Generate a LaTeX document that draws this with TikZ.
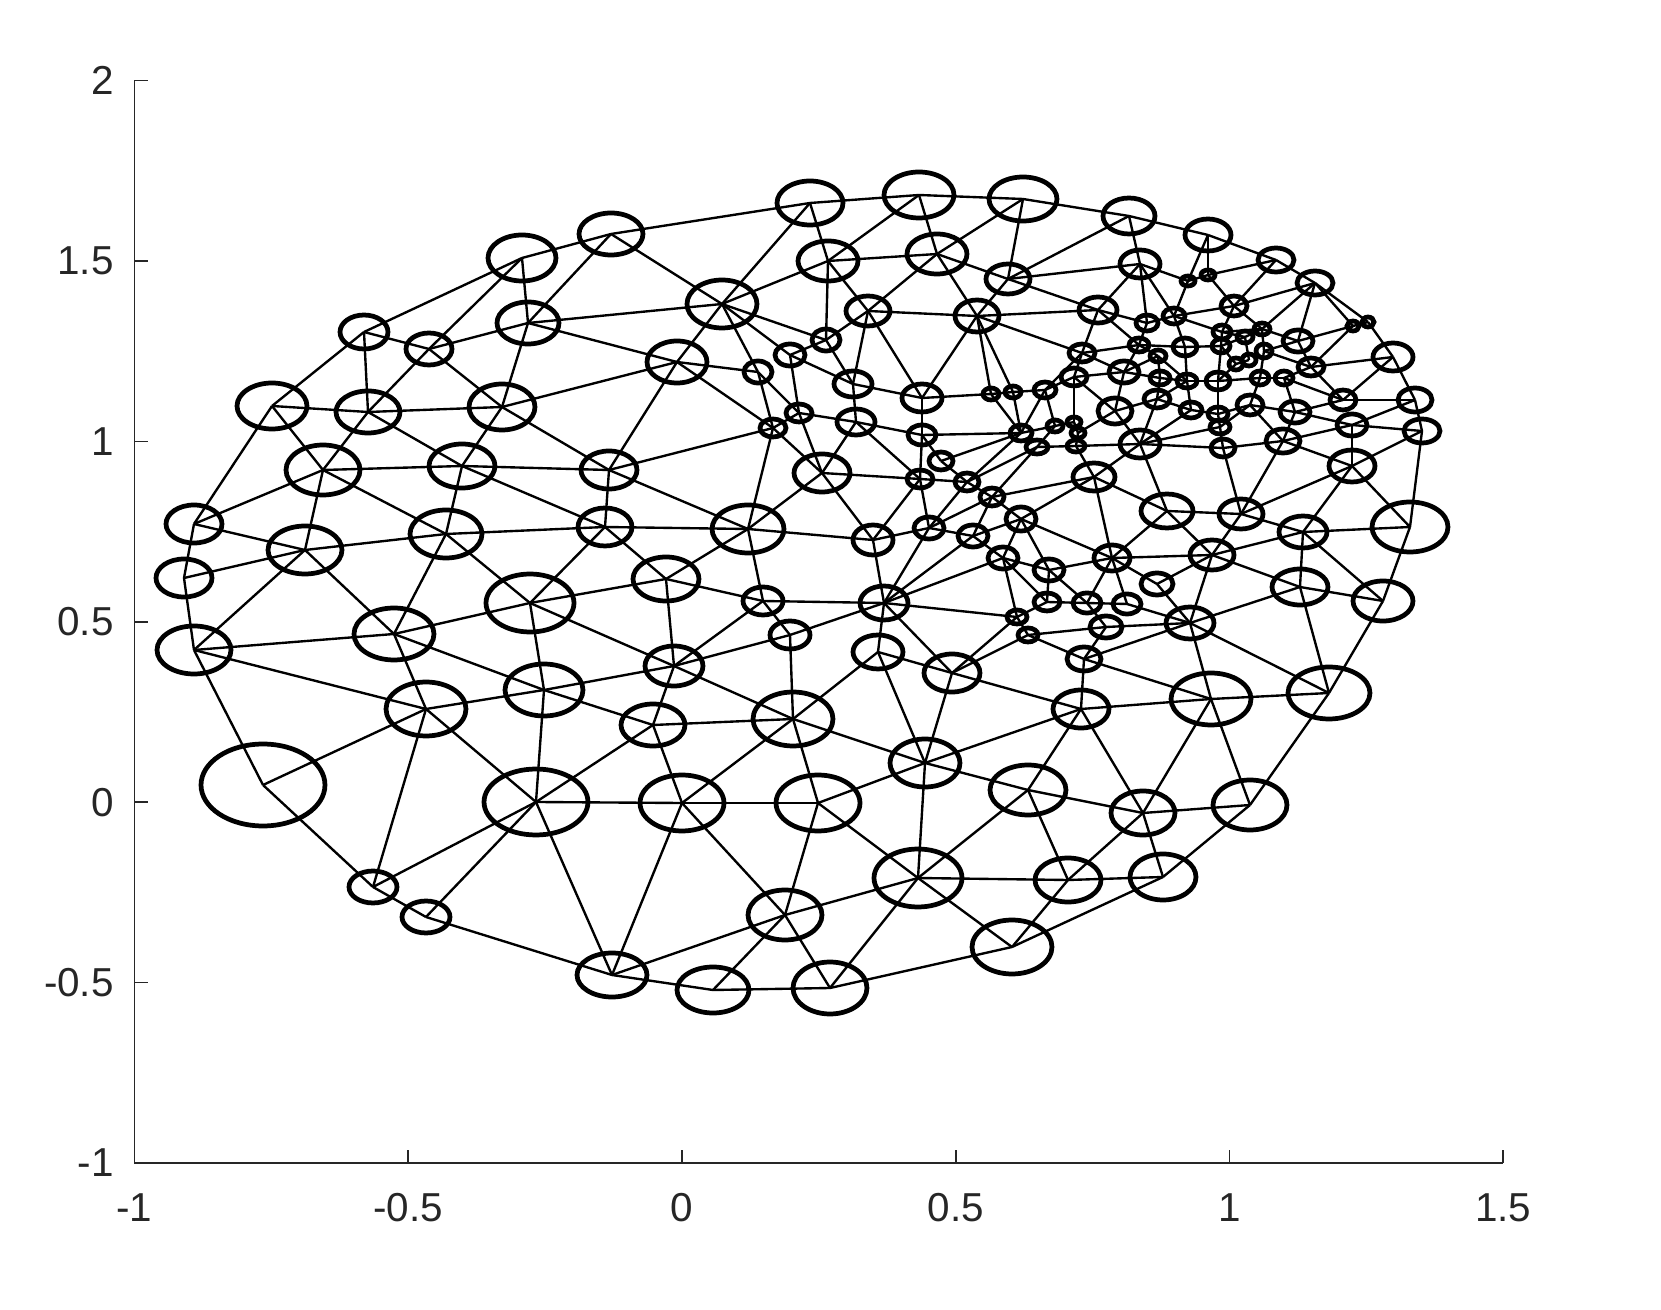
\documentclass[tikz,border=0pt]{standalone}
\usepackage{fontspec}
\newfontfamily\axfont{Liberation Sans}
\usetikzlibrary{shapes.geometric}
\definecolor{axc}{rgb}{0.15,0.15,0.15}
\tikzset{
  nd/.style={ellipse,draw=black,line width=2.7pt,inner sep=0pt,outer sep=0pt},
  edge/.style={black,line width=1.35pt},
  axline/.style={axc,line width=0.9pt},
  ticklab/.style={axc,inner sep=0pt,font=\axfont\fontsize{23}{27}\selectfont}
}
\newcommand\nd[5]{\node[nd,minimum width=#4*0.04cm,minimum height=#5*0.04cm] (#1) at (#2,#3) {};}
\begin{document}
\begin{tikzpicture}[x=0.02cm,y=-0.02cm]
\useasboundingbox (0,0) rectangle (1661,1310);
% axes
\coordinate (ax0) at (134.5,80.5);
\coordinate (ax1) at (134.5,1163);
\coordinate (ax2) at (1503.25,1163);
\draw[axline] (ax0) -- (ax1) -- (ax2);
\foreach \k/\lab in {0/-1,1/-0.5,2/0,3/0.5,4/1,5/1.5}{
  \draw[axline] (134.5+\k*273.75,1163) -- (134.5+\k*273.75,1150);
  \node[ticklab] (xl\k) at (134.5+\k*273.75,1208) {\lab};
}
\foreach \k/\lab in {0/2,1/1.5,2/1,3/0.5,4/0,5/-0.5,6/-1}{
  \draw[axline] (134.5,80.5+\k*180.42) -- (147.5,80.5+\k*180.42);
  \node[ticklab,anchor=east] (yl\k) at (114,80.5+\k*180.42) {\lab};
}
% nodes
\nd{A1}{810}{203}{33}{22}
\nd{A2}{919}{195}{35}{23}
\nd{A3}{1023}{199}{34}{22}
\nd{A4}{1129}{216}{26}{18}
\nd{A5}{1208}{235}{23}{16}
\nd{A6}{1276}{260}{18}{12}
\nd{A7}{1315}{283}{18}{12}
\nd{A8}{611}{234}{32}{21}
\nd{A9}{522}{258}{34}{23}
\nd{A10}{364}{332}{24}{17}
\nd{A11}{272}{406}{35}{23}
\nd{A12}{194}{524}{28}{19}
\nd{A13}{184}{578}{28}{19}
\nd{A14}{194}{650}{37}{24}
\nd{A15}{263}{785}{62}{41}
\nd{A16}{373}{887}{24}{16}
\nd{A17}{426}{917}{24}{16}
\nd{A18}{612}{975}{35}{22}
\nd{A19}{713}{990}{36}{23}
\nd{A20}{830}{988}{37}{26}
\nd{A21}{1012}{947}{40}{27}
\nd{A22}{1163}{877}{33}{23}
\nd{A23}{1250}{805}{37}{25}
\nd{A24}{1329}{693}{41}{26}
\nd{A25}{1383}{601}{30}{20}
\nd{A26}{1410}{527}{38}{25}
\nd{A27}{1422}{431}{18}{12}
\nd{A28}{1415}{400}{17}{12}
\nd{A29}{1393}{357}{20}{14}
\nd{E6}{1353}{326}{6}{5}
\nd{E7}{1368}{322}{6}{5}
\nd{B1}{528}{323}{31}{21}
\nd{B2}{429}{349}{23}{16}
\nd{B3}{368}{412}{32}{21}
\nd{B4}{502}{407}{33}{23}
\nd{B5}{323}{470}{37}{25}
\nd{B6}{462}{466}{33}{22}
\nd{B7}{305}{550}{37}{24}
\nd{B8}{446}{534}{36}{24}
\nd{B9}{394}{634}{40}{26}
\nd{B10}{426}{709}{40}{27}
\nd{B11}{530}{603}{44}{29}
\nd{B12}{544}{690}{39}{26}
\nd{B13}{536}{802}{52}{33}
\nd{B14}{682}{803}{42}{28}
\nd{B15}{818}{803}{42}{28}
\nd{B16}{918}{878}{44}{29}
\nd{B17}{785}{915}{37}{25}
\nd{B18}{653}{725}{32}{21}
\nd{B19}{674}{666}{29}{20}
\nd{B20}{793}{719}{40}{27}
\nd{B21}{925}{763}{35}{24}
\nd{B22}{1028}{790}{38}{25}
\nd{B23}{1143}{813}{32}{22}
\nd{B24}{1068}{880}{33}{22}
\nd{B25}{1081}{709}{28}{19}
\nd{B26}{1211}{699}{40}{26}
\nd{B27}{1300}{587}{28}{18}
\nd{B28}{1303}{532}{24}{16}
\nd{B29}{1352}{466}{23}{16}
\nd{B30}{666}{579}{33}{22}
\nd{B31}{605}{527}{27}{19}
\nd{B32}{609}{470}{28}{19}
\nd{B33}{748}{529}{36}{24}
\nd{B34}{677}{362}{30}{21}
\nd{B35}{722}{304}{35}{24}
\nd{B36}{828}{261}{30}{20}
\nd{B37}{937}{254}{30}{20}
\nd{B38}{1008}{279}{22}{15}
\nd{B39}{977}{316}{22}{16}
\nd{B40}{868}{311}{22}{15}
\nd{B41}{822}{473}{28}{19}
\nd{B42}{873}{540}{20}{15}
\nd{B43}{884}{603}{24}{17}
\nd{B44}{878}{652}{25}{17}
\nd{B45}{952}{673}{28}{19}
\nd{B46}{790}{635}{20}{14}
\nd{B47}{763}{601}{20}{14}
\nd{B48}{1167}{511}{26}{17}
\nd{B49}{1241}{514}{22}{15}
\nd{B50}{1212}{555}{22}{15}
\nd{B51}{1190}{623}{24}{16}
\nd{B52}{1094}{477}{21}{14}
\nd{B53}{1112}{558}{18}{13}
\nd{B54}{1098}{310}{19}{13}
\nd{B55}{1140}{264}{20}{14}
\nd{C1}{826}{340}{14}{11}
\nd{C2}{790}{355}{15}{11}
\nd{C3}{758}{372}{14}{11}
\nd{C4}{853}{384}{19}{13}
\nd{C5}{922}{398}{20}{14}
\nd{C6}{799}{413}{13}{9}
\nd{C7}{773}{428}{13}{9}
\nd{C8}{856}{422}{19}{13}
\nd{C9}{922}{435}{14}{10}
\nd{C10}{941}{461}{12}{9}
\nd{C11}{920}{479}{13}{9}
\nd{C12}{967}{482}{12}{9}
\nd{D1}{991}{394}{8}{6}
\nd{D2}{1013}{392}{8}{6}
\nd{D3}{1045}{390}{11}{8}
\nd{D4}{1074}{377}{13}{9}
\nd{D5}{1021}{433}{11}{8}
\nd{D6}{1055}{426}{8}{6}
\nd{D7}{1037}{447}{11}{7}
\nd{D8}{1076}{446}{9}{6}
\nd{E1}{1188}{281}{7}{5}
\nd{E2}{1208}{275}{7}{5}
\nd{E3}{1234}{306}{13}{10}
\nd{E4}{1147}{323}{11}{8}
\nd{E5}{1174}{316}{11}{8}
\nd{E8}{1222}{332}{9}{7}
\nd{E9}{1262}{329}{8}{6}
\nd{E10}{1245}{337}{8}{6}
\nd{E11}{1298}{341}{15}{11}
\nd{E12}{1082}{353}{13}{9}
\nd{E13}{1139}{345}{10}{7}
\nd{E14}{1185}{347}{12}{9}
\nd{E15}{1158}{356}{8}{6}
\nd{E16}{1221}{346}{9}{7}
\nd{E17}{1264}{351}{8}{7}
\nd{E18}{1236}{364}{7}{6}
\nd{E19}{1249}{360}{7}{6}
\nd{E20}{1124}{372}{15}{11}
\nd{E21}{1160}{378}{10}{7}
\nd{E22}{1187}{381}{10}{7}
\nd{E23}{1218}{381}{12}{9}
\nd{E24}{1260}{378}{9}{7}
\nd{E25}{1284}{378}{9}{7}
\nd{E26}{1311}{367}{13}{9}
\nd{E27}{1074}{422}{7}{5}
\nd{E28}{1078}{433}{7}{5}
\nd{E29}{1115}{411}{17}{13}
\nd{E30}{1157}{399}{13}{9}
\nd{E31}{1191}{410}{11}{8}
\nd{E32}{1218}{414}{10}{7}
\nd{E33}{1220}{427}{10}{7}
\nd{E34}{1250}{405}{13}{10}
\nd{E35}{1295}{412}{15}{11}
\nd{E36}{1343}{400}{13}{10}
\nd{E37}{1352}{425}{15}{11}
\nd{E38}{1223}{448}{12}{9}
\nd{E39}{1283}{441}{17}{12}
\nd{F1}{1140}{444}{20}{14}
\nd{G1}{992}{497}{12}{9}
\nd{G2}{1021}{519}{15}{12}
\nd{G3}{929}{528}{15}{11}
\nd{G4}{973}{536}{15}{11}
\nd{G5}{1003}{558}{15}{11}
\nd{G6}{1049}{570}{15}{11}
\nd{G7}{1047}{602}{13}{9}
\nd{G8}{1017}{617}{10}{7}
\nd{G9}{1028}{635}{10}{7}
\nd{G10}{1084}{659}{17}{12}
\nd{G11}{1157}{584}{16}{11}
\nd{G12}{1087}{603}{14}{10}
\nd{G13}{1127}{604}{14}{10}
\nd{G14}{1106}{627}{16}{11}
% edges
\foreach \a/\b in {A1/A2,A2/A3,A3/A4,A4/A5,A5/A6,A6/A7,A8/A1,A9/A8,A10/A9,A11/A10,A11/A12,A12/A13,A13/A14,A14/A15,A15/A16,A16/A17,A17/A18,A18/A19,A19/A20,A20/A21,A21/A22,A22/A23,A23/A24,A24/A25,A25/A26,A26/A27,A27/A28,A28/A29,A29/E7,E7/A7,A7/E6,E6/E7,
A9/B1,A9/B2,A8/B1,A10/B2,A10/B3,B2/B1,B2/B3,B2/B4,B1/B4,B1/B35,B1/B34,A11/B3,B3/B4,B4/B34,B4/B32,A11/B5,B3/B5,B3/B6,B4/B6,B5/B6,B6/B32,
A8/B35,A1/B35,A1/B36,A2/B36,A2/B37,A3/B37,A3/B38,B36/B37,B35/B36,B36/B40,B36/C1,B37/B40,B37/B39,B37/B38,B38/B39,B38/B55,B38/B54,B40/B39,B35/B34,B35/C3,B35/C2,B35/C1,B34/C3,B34/C7,B34/B32,C1/C2,C1/C4,C1/B40,C2/C6,C2/C4,C3/C6,C3/C7,B40/C4,B40/C5,B39/C5,B39/D1,B39/D2,B39/B54,B39/E12,C4/C5,C4/C8,C5/D1,C5/C9,D1/D2,D2/D3,D3/D4,D1/D5,D2/D5,D3/D5,D3/D6,E12/D3,C6/C8,C6/C7,C6/B41,C7/B41,C7/B33,C8/B41,C8/C9,C8/C11,C9/C11,C9/D5,C9/C10,C10/D5,C10/C12,C11/C12,C12/D7,C12/D5,B41/C11,B32/C7}
  \draw[edge] (\a.center) -- (\b.center);
\foreach \a/\b in {A4/B38,A4/B55,A5/E1,A5/E2,A6/E3,A6/E2,E2/E3,E1/E2,B55/E1,B55/B54,B55/E4,B55/E5,E1/E5,E3/E5,E3/A7,E3/E8,E3/E9,A7/E11,A7/E9,B54/E4,B54/E12,B54/E13,E4/E5,E4/E13,E5/E14,E5/E8,E12/E13,E13/E14,E13/E15,E14/E16,E8/E16,E8/E9,E8/E10,E9/E10,E9/E17,E9/E11,E10/E19,E16/E18,E17/E11,E11/E26,E6/E11,E6/E26,E26/A29,E26/E36,A29/E36,E36/A28,A28/E37,E37/A27,E35/E37,E36/E35,E39/E37,E39/E35,E39/B29,E37/B29,A27/B29,B29/A26,E34/E39,E34/E35,E34/E24,E34/E32,E38/E39,E33/E38,E32/E33,E30/E31,E30/E29,E29/E28,E29/F1,E29/E20,E20/E12,E20/E15,E20/E21,E20/D4,E21/E22,E22/E23,E23/E24,E24/E25,E25/E26,E25/E36,E25/E35,E22/E31,E23/E32,E31/F1,E33/F1,F1/E38,F1/B52,F1/D8,E27/E28,D6/E27,E17/E24,E17/E26,E16/E23,E14/E22,E15/E22,E21/E30,E30/F1,E18/E19,E10/E16,E18/E23,E31/E32,E33/E34,E30/E22,D4/E29,D4/E27,D5/D6,D7/D8,E28/D8,D8/B52,D6/D7,E15/E21,E12/D4,E13/E20}
  \draw[edge] (\a.center) -- (\b.center);
\foreach \a/\b in {B31/B33,B32/B33,B33/B41,B41/B42,B33/B42,B31/B30,B33/B30,B33/B47,B30/B11,B30/B47,B30/B19,B42/B43,B42/G3,B42/C11,G3/C11,G3/C12,G4/G2,G1/G4,G1/G3,G1/G2,G1/D7,G1/B52,G1/C12,G2/B52,G2/G5,G2/G6,G2/B53,G3/G4,G3/B43,G4/B43,G4/G5,G5/G6,G5/B43,G5/G8,G5/G7,G6/G7,G6/G12,G6/B53,G7/G8,G8/G9,G9/G10,G9/G14,G7/G12,B43/G8,B43/B47,B43/B46,B43/B44,B43/B45,B47/B46,B47/B19,B46/B19,B46/B20,B20/B44,B44/B45,B44/B21,B45/G8,B45/G9,B45/B21,B45/B25,B19/B18,B19/B20,B11/B19,B12/B19,B18/B20,B12/B18,B13/B18,B18/B14,B20/B14,B20/B15,B20/B21,B21/B15,B21/B22,B21/B25,B21/B16,B22/B25,B14/B15,
B52/B48,B48/B49,B49/B28,B28/A26,B48/F1,B49/E38,B49/E39,B49/B29,B28/B29,B52/B53,B48/B53,B48/B50,B50/B49,B50/B28,B53/B50,B53/G11,B53/G12,B53/G13,G11/B50,G11/B51,G12/G13,G12/G14,G13/B51,G14/B51,G14/G10,G10/B51,G10/B25,B50/B51,B50/B27,B28/B27,B28/A25,B27/A25,B51/B27,B51/B26,B51/A24,B27/A24,G10/B26,B25/B26,B26/A24,B26/A23,B26/B23,B25/B23,B23/A23,B22/B23,
A12/B5,B5/B7,B5/B8,B6/B8,B6/B31,B32/B31,A12/B7,A13/B7,B7/B8,B8/B31,B7/A14,B7/B9,B8/B9,B8/B11,B31/B11,A14/B9,A14/B10,B9/B11,B9/B10,B9/B12,B11/B12,B10/B12,B10/A15,B10/A16,B10/B13,B12/B13,B13/B14,A16/B13,A17/B13,B13/A18,B14/A18,B14/B17,B15/B17,B15/B16,B22/B16,B22/B24,B16/B24,B16/B17,B16/A21,B16/A20,B17/A18,B17/A19,B17/A20,B24/A21,B23/B24,B23/A22,B24/A22}
  \draw[edge] (\a.center) -- (\b.center);
\end{tikzpicture}
\end{document}
